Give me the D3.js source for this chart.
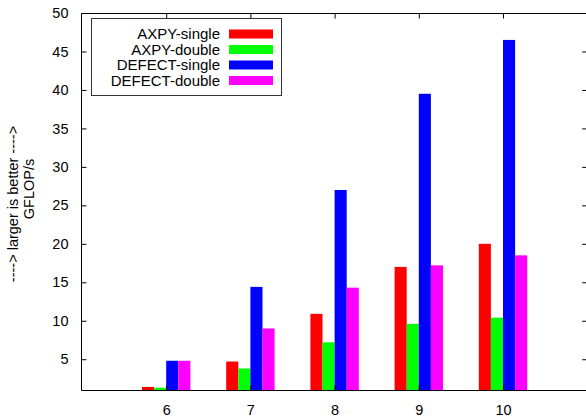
<!DOCTYPE html>
<html><head><meta charset="utf-8">
<script src="https://cdn.jsdelivr.net/npm/d3@7"></script>
<style>body{margin:0;background:#fff}svg{display:block}text{font-family:"Liberation Sans",Arial,sans-serif}</style>
</head><body><svg id="c" width="586" height="419"></svg>
<script>
const categories = [6, 7, 8, 9, 10];
const seriesNames = ["AXPY-single", "AXPY-double", "DEFECT-single", "DEFECT-double"];
const axpySingle = [1.4, 4.7, 10.9, 17.0, 20.0];
const axpyDouble = [1.3, 3.8, 7.2, 9.6, 10.4];
const defectSingle = [4.8, 14.4, 27.0, 39.5, 46.5];
const defectDouble = [4.8, 9.0, 14.3, 17.2, 18.5];
const seriesValues = [axpySingle, axpyDouble, defectSingle, defectDouble];
const colors = ["#ff0000", "#00ff00", "#0000ff", "#ff00ff"];
const yTicks = [5, 10, 15, 20, 25, 30, 35, 40, 45, 50];

const svg = d3.select("#c");
const L = 82, R = 587.2, T = 13, B = 390;
const x = d3.scaleLinear().domain([5, 11]).range([L, R]);
const y = d3.scaleLinear().domain([1, 50]).range([B, T]);
const bw = 0.1437;

// bars
seriesValues.forEach((vals, si) => {
  svg.append("g").selectAll("rect").data(vals).join("rect")
    .attr("x", (d, i) => x(categories[i] + (si - 2) * bw))
    .attr("width", x(5 + bw) - x(5))
    .attr("y", d => y(d))
    .attr("height", d => y(1) - y(d))
    .attr("fill", colors[si]);
});

// axes
const fs = "14.5px";
const yAxis = d3.axisLeft(y).tickValues(yTicks).tickSize(-5).tickPadding(13).tickFormat(d3.format("d"));
svg.append("g").attr("transform", `translate(${L - 0.5},0)`).call(yAxis);
const yAxisR = d3.axisRight(y).tickValues(yTicks).tickSize(-5).tickFormat("");
svg.append("g").attr("transform", `translate(${R},0)`).call(yAxisR);
const xAxis = d3.axisBottom(x).tickValues(categories).tickSize(-5).tickPadding(14).tickFormat(d3.format("d"));
svg.append("g").attr("transform", `translate(0,${B + 0.5})`).call(xAxis);
const xAxisT = d3.axisTop(x).tickValues(categories).tickSize(-5).tickFormat("");
svg.append("g").attr("transform", `translate(0,${T + 0.5})`).call(xAxisT);
svg.selectAll(".domain").remove();
svg.selectAll(".tick line").attr("stroke", "#000");
svg.selectAll(".tick text").attr("font-size", fs).attr("fill", "#000").attr("font-family", '"Liberation Sans",Arial,sans-serif');
// border
svg.append("path").attr("d", `M${L - 0.5},${T + 0.5}H${R}M${L - 0.5},${T + 0.5}V${B + 0.5}H${R}`)
  .attr("fill", "none").attr("stroke", "#000").attr("stroke-width", 1);

// y label
svg.append("text").attr("transform", "translate(18,204) rotate(-90)").attr("text-anchor", "middle")
  .attr("font-size", "14.5px").text("----> larger is better ---->");
svg.append("text").attr("transform", "translate(34,189) rotate(-90)").attr("text-anchor", "middle")
  .attr("font-size", "14.5px").text("GFLOP/s");

// legend
svg.append("rect").attr("x", 91.5).attr("y", 18.5).attr("width", 190).attr("height", 77)
  .attr("fill", "#fff").attr("stroke", "#333").attr("stroke-width", 1);
const lg = svg.append("g").selectAll("g").data(seriesNames).join("g")
  .attr("transform", (d, i) => `translate(0,${34 + i * 15.5})`);
lg.append("text").attr("x", 220).attr("y", 5).attr("text-anchor", "end").attr("font-size", "15px").text(d => d);
lg.append("rect").attr("x", 229).attr("y", -4.5).attr("width", 44).attr("height", 9).attr("fill", (d, i) => colors[i]);
</script></body></html>
